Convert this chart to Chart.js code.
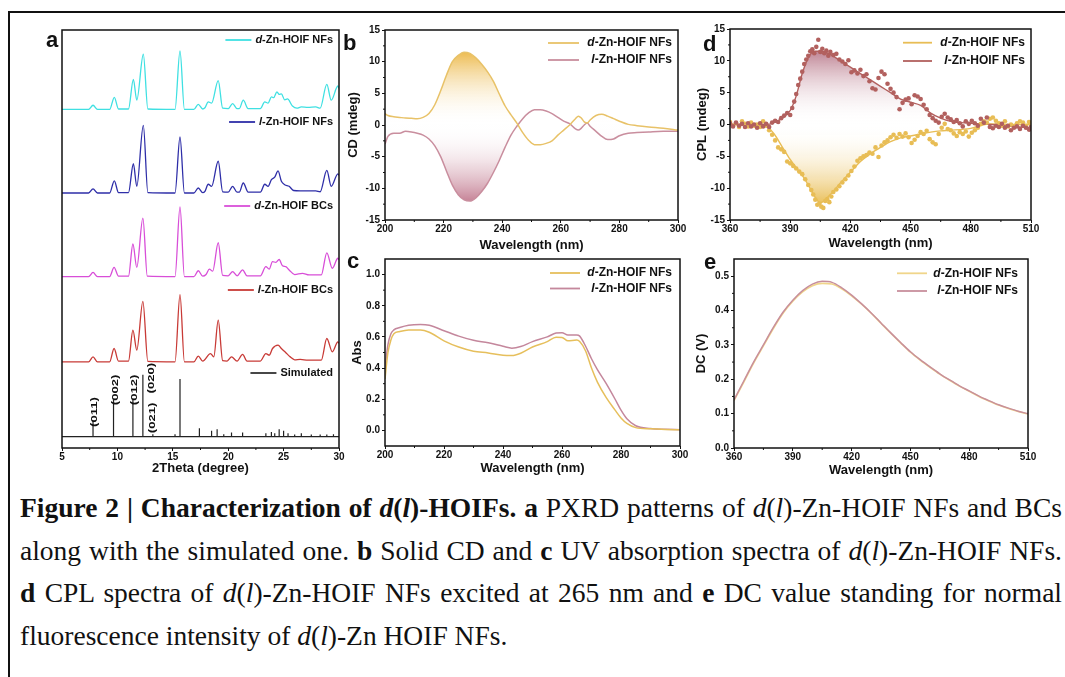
<!DOCTYPE html>
<html>
<head>
<meta charset="utf-8">
<script src="https://cdn.jsdelivr.net/npm/chart.js@4.4.1/dist/chart.umd.min.js"></script>
<style>
  body { margin: 0; background: #fff; width: 1065px; height: 677px; overflow: hidden; position: relative; }
  canvas { position: absolute; }
  .frame { position: absolute; left: 8px; top: 11px; width: 1070px; height: 680px; border-left: 2px solid #111; border-top: 2px solid #111; }
  .tag { position: absolute; font: bold 22px/22px "Liberation Sans", Arial, sans-serif; color: #111; }
  .cap { position: absolute; left: 20px; top: 487px; width: 1042px; font: 27.5px/42.5px "Liberation Serif", "Times New Roman", serif; color: #111; }
  .cap div { text-align: justify; text-align-last: justify; white-space: nowrap; }
  .cap div.last { text-align-last: left; }
</style>
</head>
<body>
<div class="frame"></div>
<canvas id="pa"></canvas>
<canvas id="pb"></canvas>
<canvas id="pc"></canvas>
<canvas id="pd"></canvas>
<canvas id="pe"></canvas>
<div class="tag" style="left:46px;top:29px">a</div>
<div class="tag" style="left:343px;top:32px">b</div>
<div class="tag" style="left:347px;top:250px">c</div>
<div class="tag" style="left:703px;top:33px">d</div>
<div class="tag" style="left:704px;top:251px">e</div>
<div class="cap">
  <div><b>Figure 2 | Characterization of <i>d</i>(<i>l</i>)-HOIFs. a</b> PXRD patterns of <i>d</i>(<i>l</i>)-Zn-HOIF NFs and BCs</div>
  <div>along with the simulated one. <b>b</b> Solid CD and <b>c</b> UV absorption spectra of <i>d</i>(<i>l</i>)-Zn-HOIF NFs.</div>
  <div><b>d</b> CPL spectra of <i>d</i>(<i>l</i>)-Zn-HOIF NFs excited at 265 nm and <b>e</b> DC value standing for normal</div>
  <div class="last">fluorescence intensity of <i>d</i>(<i>l</i>)-Zn HOIF NFs.</div>
</div>
<script>
// ---- a: PXRD, each trace as [2theta, intensity above its own baseline]
const pxrdTicks = [5, 10, 15, 20, 25, 30];
const pxrdNames = ["d-Zn-HOIF NFs", "l-Zn-HOIF NFs", "d-Zn-HOIF BCs", "l-Zn-HOIF BCs"];
const pxrdOffsets = [81, 61, 41, 20.6];
const simOffset = 2.7;

const dNF = [[5,0],[7.4,0],[7.8,1.0],[8.2,0],[9.3,0],[9.72,2.9],[10.1,0.1],[11.0,0.1],[11.44,7.2],[11.75,2.2],[12.34,13.2],[12.75,0.1],[15.2,0],[15.65,14],[16.05,0],[16.9,0],[17.3,1.2],[17.7,0.1],[17.9,0.4],[18.2,1.8],[18.5,1.5],[19.1,6.9],[19.5,0.3],[20.0,0.2],[20.4,1.4],[20.8,0.2],[21.0,0.2],[21.36,2.2],[21.8,0.2],[22.9,0.2],[23.3,1.8],[23.6,1.5],[23.9,3],[24.1,2.8],[24.4,4.2],[24.6,3.6],[24.8,3.7],[25.1,2.3],[25.35,2.5],[25.8,0.8],[26.2,0.3],[26.6,0.6],[27.2,0.5],[27.9,0.6],[28.3,0.3],[28.9,6],[29.3,2.2],[29.9,5.6],[30,5.0]];
const lNF = [[5,0],[7.4,0],[7.8,1.0],[8.2,0],[9.3,0],[9.72,2.9],[10.1,0.1],[11.0,0.1],[11.44,7],[11.75,1.6],[12.34,16.2],[12.75,0.1],[15.2,0],[15.65,13.4],[16.05,0],[16.9,0],[17.3,1.2],[17.7,0.1],[17.9,0.4],[18.2,2.1],[18.5,1.6],[19.1,7.6],[19.5,0.3],[20.0,0.2],[20.4,1.6],[20.8,0.2],[21.0,0.2],[21.36,2.4],[21.8,0.2],[22.9,0.2],[23.3,2.1],[23.6,1.6],[23.9,3.2],[24.2,3.8],[24.5,5.3],[24.8,2.8],[25.1,2],[25.5,1.6],[25.9,0.6],[26.5,0.5],[27.2,0.5],[27.9,0.5],[28.3,0.3],[28.9,5.4],[29.3,1.6],[29.9,4.6],[30,4.2]];
const dBC = [[5,0],[7.4,0],[7.8,1.0],[8.2,0],[9.3,0],[9.7,2.2],[10.1,0.1],[11.0,0.1],[11.4,7.8],[11.75,2.2],[12.3,14],[12.7,0.1],[15.2,0],[15.65,16.7],[16.05,0],[16.9,0],[17.3,1.4],[17.7,0.1],[18.0,0.5],[18.3,1.8],[18.6,1.3],[19.1,8.1],[19.5,0.3],[20.0,0.2],[20.4,1.2],[20.8,0.2],[21.3,1.6],[21.7,0.2],[22.9,0.2],[23.4,2.4],[23.7,1.8],[24.0,3.6],[24.3,3.4],[24.6,4.1],[24.9,2.6],[25.2,2.4],[25.5,1.6],[26.0,0.5],[26.7,0.8],[27.3,0.4],[28.0,0.4],[28.4,0.4],[28.9,5.7],[29.4,2],[29.9,4.4],[30,4.0]];
const lBC = [[5,0],[7.4,0],[7.8,1.2],[8.2,0],[9.3,0],[9.7,3.2],[10.1,0.2],[11.0,0.2],[11.4,7.6],[11.75,2.8],[12.3,14.5],[12.75,0.1],[15.2,0],[15.65,16.1],[16.05,0],[16.9,0],[17.3,1.4],[17.7,0.2],[18.4,2],[18.7,1.2],[19.1,10],[19.5,0.3],[19.9,0.2],[20.3,1.2],[20.8,0.2],[21.3,1.8],[21.7,0.2],[22.9,0.2],[23.4,2],[23.7,1.6],[24.0,3.2],[24.5,4],[24.8,3.2],[25.2,2.2],[25.6,1.2],[26.0,0.5],[26.5,0.6],[27.2,0.4],[28.0,0.4],[28.4,0.4],[28.9,5.6],[29.4,2.4],[29.9,4.8],[30,4.4]];

const simPos = [7.8,9.65,11.4,12.3,13.2,15.2,15.65,17.4,18.5,19.0,19.6,20.3,21.3,23.4,23.9,24.2,24.6,25.0,25.4,26.0,26.6,27.5,28.3,28.9,29.5];
const simInt = [3.75,8.8,8.8,14.8,0.6,0.6,13.8,2,1.4,1.8,0.6,1,1,0.8,1.1,0.8,1.8,1.4,0.8,0.5,0.8,0.5,0.5,0.5,0.6];
const millerTags = ["(011)", "(002)", "(012)", "(020)", "(021)"];

// ---- b: CD
const cdX = [200,201,203,205,207,209,211,213,215,217,219,221,223,225,227,229,231,233,235,237,239,241,243,245,247,249,251,253,255,257,259,261,263,265,266,267,268,269,270,272,274,276,278,280,283,286,290,295,300];
const cdD = [1.8,1.5,1.3,1.2,1.1,1.05,1.0,1.2,1.8,3.2,5.4,7.9,10.0,11.0,11.5,11.3,10.6,9.6,8.4,6.9,4.9,3.0,1.6,0.3,-1.2,-2.4,-3.1,-3.1,-2.9,-2.5,-1.6,-0.8,0.0,1.0,1.4,1.1,0.5,0.3,0.8,1.5,1.7,1.4,1.0,0.6,0.1,-0.1,-0.3,-0.5,-0.8];
const cdL = [-3.0,-1.8,-1.3,-1.3,-1.0,-1.1,-1.3,-1.6,-2.2,-3.3,-5.0,-7.3,-9.5,-11.0,-11.8,-12.0,-11.5,-10.5,-9.2,-7.5,-5.6,-3.5,-1.6,-0.2,1.0,1.9,2.4,2.4,2.2,1.8,1.2,0.6,0.2,-0.6,-0.8,-0.5,0.0,0.3,-0.2,-1.0,-1.8,-2.3,-2.2,-1.7,-1.3,-1.2,-1.1,-1.0,-1.0];
const cdXTicks = [200, 220, 240, 260, 280, 300];
const cdYTicks = [-15, -10, -5, 0, 5, 10, 15];

// ---- c: UV absorption
const uvX = [200,201,202,203,205,208,212,215,220,225,230,235,240,243,246,250,255,258,260,262,265,266,268,270,272,275,278,280,282,285,290,295,300];
const uvD = [0.33,0.50,0.58,0.62,0.635,0.645,0.645,0.63,0.575,0.535,0.508,0.497,0.482,0.48,0.495,0.535,0.57,0.598,0.597,0.575,0.58,0.57,0.51,0.40,0.31,0.21,0.13,0.08,0.045,0.018,0.01,0.006,0.004];
const uvL = [0.40,0.55,0.62,0.645,0.66,0.675,0.68,0.675,0.64,0.605,0.578,0.562,0.54,0.528,0.538,0.57,0.6,0.625,0.627,0.612,0.612,0.605,0.54,0.46,0.39,0.30,0.20,0.13,0.075,0.03,0.012,0.007,0.005];
const uvYTicks = [0, 0.2, 0.4, 0.6, 0.8, 1.0];

// ---- d: CPL, measured points and smoothed curves
const cplL = [[360,0.2],[361.5,-0.3],[363,0.3],[364.5,-0.2],[366,0.1],[367.5,-0.4],[369,0.2],[370.5,-0.3],[372,0],[373.5,-0.5],[375,0.2],[376.5,-0.3],[378,0.1],[379.5,-0.4],[381,0.3],[382.5,0.6],[384,0.4],[385.5,1.0],[387,1.4],[388.5,1.8],[390,1.5],[391,2.6],[392,3.6],[393,4.8],[394,6.2],[395,7.2],[396,8.3],[397,9.5],[398,10.2],[399,10.8],[400,11.5],[401,11.8],[402,11.2],[403,12.2],[404,13.3],[405,11.4],[406,11.9],[407,11.2],[408,11.6],[409,10.8],[410,11.4],[411.5,10.9],[413,11.1],[414.5,10.2],[416,9.9],[417.5,9.5],[419,10.1],[420.5,8.2],[422,8.5],[423.5,8.0],[425,8.6],[426.5,7.6],[428,7.9],[429.5,6.8],[431,5.7],[432.5,5.5],[434,7.3],[435.5,8.3],[437,7.9],[438.5,6.4],[440,5.6],[441.5,5.0],[443,4.3],[444.5,2.4],[446,3.4],[447.5,3.9],[449,4.1],[450.5,3.2],[452,4.6],[453.5,4.4],[455,4.0],[456.5,3.1],[458,2.4],[459.5,1.5],[461,1.0],[462.5,0.6],[464,0.3],[465.5,1.2],[467,1.7],[468.5,1.1],[470,0.8],[471.5,0.4],[473,0.7],[474.5,0.2],[476,-0.3],[477.5,0.5],[479,0.1],[480.5,0.6],[482,0.2],[483.5,-0.2],[485,0.9],[486.5,0.3],[488,1.1],[489.5,-0.4],[491,-0.6],[492.5,-0.2],[494,-0.4],[495.5,0.1],[497,-0.5],[498.5,-0.2],[500,-0.9],[501.5,-0.5],[503,-0.3],[504.5,-0.7],[506,-0.2],[507.5,-0.5],[509,-0.8],[510,-0.4]];
const cplD = [[360,0.4],[361.5,-0.2],[363,0.2],[364.5,-0.4],[366,0.5],[367.5,0.1],[369,-0.3],[370.5,0.3],[372,-0.2],[373.5,0.0],[375,-0.4],[376.5,0.5],[378,-0.2],[379.5,-0.9],[381,-1.6],[382.5,-2.5],[384,-3.6],[385.5,-3.9],[387,-4.3],[388.5,-5.8],[390,-6.1],[391.5,-6.5],[393,-6.9],[394.5,-7.4],[396,-7.8],[397.5,-8.6],[399,-9.5],[400.5,-10.3],[401.5,-11.0],[402.5,-11.8],[403.5,-12.6],[404.5,-12.4],[405.5,-12.9],[406.5,-13.1],[407.5,-12.0],[408.5,-11.7],[409.5,-12.2],[410.5,-11.3],[411.5,-10.6],[413,-10.2],[414.5,-9.7],[416,-9.1],[417.5,-8.6],[419,-8.0],[420.5,-7.3],[422,-6.6],[423.5,-5.7],[425,-5.3],[426.5,-5.0],[428,-4.8],[429.5,-4.4],[431,-4.6],[432.5,-3.6],[434,-5.1],[435.5,-3.3],[437,-2.8],[438.5,-2.5],[440,-2.0],[441.5,-1.6],[443,-2.1],[444.5,-1.5],[446,-1.9],[447.5,-1.4],[449,-2.0],[450.5,-2.9],[452,-2.4],[453.5,-1.8],[455,-1.2],[456.5,-1.5],[458,-1.0],[459.5,-2.3],[461,-2.8],[462.5,-3.1],[464,-1.5],[465.5,-0.5],[467,0.1],[468.5,-0.7],[470,-0.9],[471.5,-1.4],[473,-1.8],[474.5,-1.2],[476,-1.5],[477.5,-1.1],[479,-1.9],[480.5,-1.3],[482,-0.9],[483.5,-0.5],[485,0.1],[486.5,0.5],[488,0.3],[489.5,0.9],[491,1.1],[492.5,0.6],[494,0.2],[495.5,-0.2],[497,0.5],[498.5,-0.3],[500,0.0],[501.5,-0.4],[503,0.2],[504.5,0.5],[506,0.3],[507.5,-0.2],[509,0.4],[510,0.1]];
const fitX = [360,370,378,382,386,390,393,396,399,402,405,410,415,420,425,430,435,440,445,450,455,460,465,470,480,490,500,510];
const fitL = [0,0,0,0.3,1,2.2,4.5,8,10.5,11.5,11.5,11,10,9,8,7,6,5,4,3.5,3,1.8,1,0.5,0.2,0,-0.3,-0.5];
const fitD = [0,0,-0.3,-1.5,-3.5,-5.5,-6.8,-8,-9.5,-11.2,-12.3,-11,-9.2,-7.5,-5.8,-4.6,-3.6,-2.7,-2.1,-1.8,-1.5,-1.2,-1,-0.9,-0.6,0.1,0,0];
const wlTicks = [360, 390, 420, 450, 480, 510];

// ---- e: DC
const dcX = [360,365,370,375,380,385,390,395,400,405,410,415,420,425,430,435,440,445,450,455,460,465,470,475,480,485,490,495,500,505,510];
const dcL = [0.14,0.195,0.25,0.30,0.35,0.395,0.43,0.458,0.477,0.485,0.482,0.466,0.445,0.42,0.393,0.364,0.335,0.307,0.28,0.257,0.236,0.216,0.198,0.181,0.166,0.151,0.138,0.126,0.116,0.107,0.1];
const dcD = [0.138,0.192,0.247,0.297,0.347,0.392,0.427,0.454,0.472,0.479,0.477,0.463,0.443,0.419,0.392,0.363,0.334,0.306,0.279,0.256,0.235,0.215,0.197,0.18,0.165,0.15,0.137,0.125,0.115,0.106,0.099];
const dcYTicks = [0, 0.1, 0.2, 0.3, 0.4, 0.5];

// colours
const cyan = "#3fe0e2", navy = "#2e2ea8", magenta = "#d84ed8", red = "#c83a36";
const gold = "#e8c268", rose = "#c98e9e", brick = "#b2605e", amber = "#e8bd55";

Chart.defaults.animation = false;
Chart.defaults.plugins.legend.display = false;
Chart.defaults.plugins.tooltip.enabled = false;

const SANS = '"Liberation Sans", Arial, sans-serif';
const tickFont = { family: SANS, size: 10, weight: "bold" };
const titleFont = { family: SANS, size: 13, weight: "bold" };

const pts = (xs, ys) => xs.map((x, i) => ({ x: x, y: ys[i] }));
const pairs = (arr, off) => arr.map(p => ({ x: p[0], y: p[1] + (off || 0) }));

function axisX(min, max, ticks, title, h) {
  return {
    type: "linear", position: "bottom", min: min, max: max,
    afterBuildTicks: s => { s.ticks = ticks.map(v => ({ value: v })); },
    afterFit: s => { s.height = h; },
    ticks: { font: tickFont, color: "#111", padding: 0, maxRotation: 0, autoSkip: false },
    grid: { drawOnChartArea: false, tickLength: 3, tickColor: "#111" },
    border: { display: false },
    title: { display: true, text: title, font: titleFont, color: "#111", padding: 0 }
  };
}
function axisY(min, max, ticks, title, w, dec) {
  return {
    type: "linear", min: min, max: max,
    afterBuildTicks: s => { s.ticks = ticks.map(v => ({ value: v })); },
    afterFit: s => { s.width = w; },
    ticks: { font: tickFont, color: "#111", padding: 2, autoSkip: false,
             callback: v => dec ? Number(v).toFixed(dec) : v },
    grid: { drawOnChartArea: false, tickLength: 3, tickColor: "#111" },
    border: { display: false },
    title: { display: true, text: title, font: titleFont, color: "#111", padding: 0 }
  };
}

// gradient from a colour at value `from` to clear white at value `to`
function fade(chart, from, to, col) {
  const { ctx, chartArea, scales } = chart;
  if (!chartArea) return "transparent";
  const g = ctx.createLinearGradient(0, scales.y.getPixelForValue(from), 0, scales.y.getPixelForValue(to));
  g.addColorStop(0, col);
  g.addColorStop(1, "rgba(255,255,255,0)");
  return g;
}

const frame = {
  id: "frame",
  afterDraw(chart) {
    const { ctx, chartArea: a } = chart;
    ctx.save();
    ctx.strokeStyle = "#111";
    ctx.lineWidth = 1;
    for (const id of ["x", "y"]) {
      const s = chart.scales[id];
      if (!s.options.display) continue;
      const t = s.ticks.map(k => k.value);
      for (let i = 0; i < t.length - 1; i++) {
        const p = s.getPixelForValue((t[i] + t[i + 1]) / 2);
        ctx.beginPath();
        if (id === "x") { ctx.moveTo(p, a.bottom); ctx.lineTo(p, a.bottom + 2); }
        else { ctx.moveTo(a.left, p); ctx.lineTo(a.left - 2, p); }
        ctx.stroke();
      }
    }
    ctx.lineWidth = 1.5;
    ctx.strokeRect(a.left, a.top, a.right - a.left, a.bottom - a.top);
    ctx.restore();
  }
};

// legend with italic d / l prefix, text right aligned
const tagLegend = {
  id: "tagLegend",
  afterDraw(chart, args, o) {
    if (!o.items) return;
    const { ctx, chartArea: a } = chart;
    const right = a.right - o.dr;
    ctx.save();
    ctx.textBaseline = "middle";
    ctx.textAlign = "left";
    ctx.fillStyle = "#111";
    o.items.forEach(it => {
      const y = a.top + it.y;
      const fi = "italic bold " + o.size + "px " + SANS, fb = "bold " + o.size + "px " + SANS;
      ctx.font = fi; const w1 = ctx.measureText(it.pre).width;
      ctx.font = fb; const w2 = ctx.measureText(it.rest).width;
      const x0 = right - w1 - w2;
      ctx.font = fi; ctx.fillText(it.pre, x0, y);
      ctx.font = fb; ctx.fillText(it.rest, x0 + w1, y);
      let l0, l1;
      if (o.lineFrom != null) { l0 = right - o.lineFrom; l1 = right - o.lineTo; }
      else { l1 = x0 - 4; l0 = l1 - o.lineLen; }
      ctx.strokeStyle = it.color;
      ctx.lineWidth = 1.8;
      ctx.beginPath(); ctx.moveTo(l0, y); ctx.lineTo(l1, y); ctx.stroke();
    });
    ctx.restore();
  }
};

// rotated (hkl) labels in panel a
const miller = {
  id: "miller",
  afterDraw(chart, args, o) {
    if (!o.items) return;
    const { ctx, scales } = chart;
    ctx.save();
    ctx.fillStyle = "#111";
    ctx.font = "bold 9px " + SANS;
    ctx.textAlign = "center";
    ctx.textBaseline = "middle";
    o.items.forEach(it => {
      ctx.save();
      ctx.translate(scales.x.getPixelForValue(it.x), scales.y.getPixelForValue(it.y));
      ctx.rotate(-Math.PI / 2);
      ctx.scale(1.45, 1);
      ctx.fillText(it.text, 0, 0);
      ctx.restore();
    });
    ctx.restore();
  }
};

function panel(id, area, yw, xh, cfg) {
  const pl = 4, pt = 10, pr = 16, pb = 2;
  const c = document.getElementById(id);
  c.width = area[2] - area[0] + yw + pl + pr;
  c.height = area[3] - area[1] + xh + pt + pb;
  c.style.width = c.width + "px";
  c.style.height = c.height + "px";
  c.style.left = (area[0] - yw - pl) + "px";
  c.style.top = (area[1] - pt) + "px";
  cfg.options.responsive = false;
  cfg.options.devicePixelRatio = 1;
  cfg.options.layout = { padding: { left: pl, top: pt, right: pr, bottom: pb } };
  cfg.plugins = [frame, tagLegend, miller];
  return new Chart(c, cfg);
}

const lineDs = (data, color, w, extra) => Object.assign({
  data: data, borderColor: color, borderWidth: w, pointRadius: 0, fill: false,
  cubicInterpolationMode: "monotone"
}, extra || {});

// ---- panel a
const simPts = [{ x: 5, y: simOffset }];
simPos.forEach((p, i) => {
  simPts.push({ x: p, y: simOffset }, { x: p, y: simOffset + simInt[i] }, { x: p, y: simOffset });
});
simPts.push({ x: 30, y: simOffset });

panel("pa", [62, 30, 339, 448], 0, 28, {
  type: "line",
  data: { datasets: [
    lineDs(pairs(dNF, pxrdOffsets[0]), cyan, 1.3),
    lineDs(pairs(lNF, pxrdOffsets[1]), navy, 1.3),
    lineDs(pairs(dBC, pxrdOffsets[2]), magenta, 1.3),
    lineDs(pairs(lBC, pxrdOffsets[3]), red, 1.3),
    lineDs(simPts, "#222", 1.2, { cubicInterpolationMode: "default", tension: 0 })
  ] },
  options: {
    scales: {
      x: axisX(5, 30, pxrdTicks, "2Theta (degree)", 28),
      y: { display: false, min: 0, max: 100 }
    },
    plugins: {
      tagLegend: { dr: 6, size: 11, lineLen: 26, items: [
        { pre: "d", rest: pxrdNames[0].slice(1), color: cyan, y: 10 },
        { pre: "l", rest: pxrdNames[1].slice(1), color: navy, y: 92 },
        { pre: "d", rest: pxrdNames[2].slice(1), color: magenta, y: 176 },
        { pre: "l", rest: pxrdNames[3].slice(1), color: red, y: 260 },
        { pre: "", rest: "Simulated", color: "#333", y: 343 }
      ] },
      miller: { items: [
        { text: millerTags[0], x: simPos[0] + 0.15, y: 8.6 },
        { text: millerTags[1], x: simPos[1] + 0.15, y: 13.9 },
        { text: millerTags[2], x: simPos[2] + 0.15, y: 13.9 },
        { text: millerTags[3], x: 13.05, y: 16.7 },
        { text: millerTags[4], x: 13.2, y: 7.2 }
      ] }
    }
  }
});

// ---- panel b
panel("pb", [385, 30, 678, 220], 39, 33, {
  type: "line",
  data: { datasets: [
    lineDs(pts(cdX, cdD), gold, 1.5, { fill: "origin",
      backgroundColor: c => fade(c.chart, 11.5, 0, "rgba(236,184,72,0.95)") }),
    lineDs(pts(cdX, cdL), rose, 1.5, { fill: "origin",
      backgroundColor: c => fade(c.chart, -12, 0, "rgba(192,118,140,0.9)") })
  ] },
  options: {
    scales: {
      x: axisX(200, 300, cdXTicks, "Wavelength (nm)", 33),
      y: axisY(-15, 15, cdYTicks, "CD (mdeg)", 39)
    },
    plugins: {
      tagLegend: { dr: 6, size: 12, lineFrom: 124, lineTo: 93, items: [
        { pre: "d", rest: "-Zn-HOIF NFs", color: gold, y: 13 },
        { pre: "l", rest: "-Zn-HOIF NFs", color: rose, y: 30 }
      ] }
    }
  }
});

// ---- panel c
panel("pc", [385, 259, 680, 446], 35, 30, {
  type: "line",
  data: { datasets: [
    lineDs(pts(uvX, uvD), "#e6bf5c", 1.5),
    lineDs(pts(uvX, uvL), "#c4879c", 1.5)
  ] },
  options: {
    scales: {
      x: axisX(200, 300, cdXTicks, "Wavelength (nm)", 30),
      y: axisY(-0.1, 1.1, uvYTicks, "Abs", 35, 1)
    },
    plugins: {
      tagLegend: { dr: 8, size: 12, lineFrom: 122, lineTo: 92, items: [
        { pre: "d", rest: "-Zn-HOIF NFs", color: "#e6bf5c", y: 14 },
        { pre: "l", rest: "-Zn-HOIF NFs", color: "#c4879c", y: 29.5 }
      ] }
    }
  }
});

// ---- panel d
panel("pd", [730, 29, 1031, 220], 35, 31, {
  type: "line",
  data: { datasets: [
    { data: pairs(cplL), showLine: false, pointRadius: 2.3, pointBorderWidth: 0,
      pointBackgroundColor: brick, borderColor: brick, order: 1 },
    { data: pairs(cplD), showLine: false, pointRadius: 2.3, pointBorderWidth: 0,
      pointBackgroundColor: amber, borderColor: amber, order: 1 },
    lineDs(pts(fitX, fitL), brick, 1.4, { order: 2, fill: "origin",
      backgroundColor: c => fade(c.chart, 12, 0, "rgba(168,88,110,0.8)") }),
    lineDs(pts(fitX, fitD), amber, 1.4, { order: 2, fill: "origin",
      backgroundColor: c => fade(c.chart, -12.5, 0, "rgba(232,186,76,0.92)") })
  ] },
  options: {
    scales: {
      x: axisX(360, 510, wlTicks, "Wavelength (nm)", 31),
      y: axisY(-15, 15, cdYTicks, "CPL (mdeg)", 35)
    },
    plugins: {
      tagLegend: { dr: 6, size: 12, lineFrom: 122, lineTo: 93, items: [
        { pre: "d", rest: "-Zn-HOIF NFs", color: amber, y: 13.7 },
        { pre: "l", rest: "-Zn-HOIF NFs", color: brick, y: 32 }
      ] }
    }
  }
});

// ---- panel e
panel("pe", [734, 259, 1028, 448], 40, 30, {
  type: "line",
  data: { datasets: [
    lineDs(pts(dcX, dcL), "#c88f9c", 1.5),
    lineDs(pts(dcX, dcD), "#f0d58a", 1.6)
  ] },
  options: {
    scales: {
      x: axisX(360, 510, wlTicks, "Wavelength (nm)", 30),
      y: axisY(0, 0.55, dcYTicks, "DC (V)", 40, 1)
    },
    plugins: {
      tagLegend: { dr: 10, size: 12, lineFrom: 121, lineTo: 91, items: [
        { pre: "d", rest: "-Zn-HOIF NFs", color: "#f0d58a", y: 14.3 },
        { pre: "l", rest: "-Zn-HOIF NFs", color: "#c88f9c", y: 32 }
      ] }
    }
  }
});
</script>
</body>
</html>
